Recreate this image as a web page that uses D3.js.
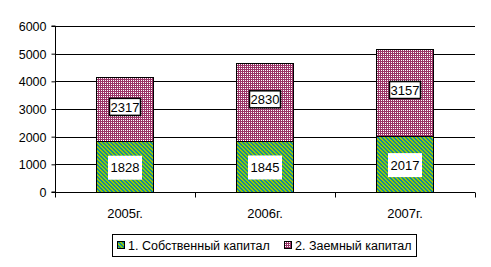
<!DOCTYPE html>
<html><head><meta charset="utf-8">
<script src="https://cdn.jsdelivr.net/npm/d3@7"></script>
<style>body{margin:0;background:#fff}svg{display:block}text{font-family:"Liberation Sans",Arial,sans-serif;font-size:12px;fill:#000}</style>
</head><body><svg id="c" width="491" height="267"></svg>
<script>
const categories = ["2005г.", "2006г.", "2007г."];
const ownCapital = [1828, 1845, 2017];
const borrowedCapital = [2317, 2830, 3157];
const yTicks = [0, 1000, 2000, 3000, 4000, 5000, 6000];
const seriesNames = ["1. Собственный капитал", "2. Заемный капитал"];

const svg = d3.select("#c");
const m = {l:55, r:475, t:26, b:192};
const x = d3.scaleBand().domain(categories).range([m.l, m.r]).paddingInner(0.59).paddingOuter(0.295);
const y = d3.scaleLinear().domain([0, 6000]).range([m.b, m.t]);

const defs = svg.append("defs");
function pixelPattern(id, rows, colors){
  const p = defs.append("pattern").attr("id",id).attr("patternUnits","userSpaceOnUse")
    .attr("width",rows[0].length).attr("height",rows.length);
  rows.forEach((r,yy)=>r.split("").forEach((ch,xx)=>{
    p.append("rect").attr("x",xx).attr("y",yy).attr("width",1).attr("height",1)
      .attr("fill",colors[ch]).attr("shape-rendering","crispEdges");
  }));
}
pixelPattern("pg", ["BBYY","YBBY","YYBB","BYYB"], {B:"#10889c", Y:"#99cc00"});
pixelPattern("pm", ["MW","MM"], {M:"#993366", W:"#ffffff"});

// gridlines
svg.append("g").selectAll("line").data(yTicks.filter(d=>d>0)).join("line")
  .attr("x1",m.l).attr("x2",m.r).attr("y1",d=>Math.round(y(d))+0.5).attr("y2",d=>Math.round(y(d))+0.5)
  .attr("stroke","#000");

// y axis
const ya = svg.append("g").attr("transform",`translate(${m.l+0.5},0)`)
  .call(d3.axisLeft(y).tickValues(yTicks).tickSize(4).tickPadding(5).tickFormat(d3.format("d")));
ya.select(".domain").attr("d",`M-4,${m.t}H0V${m.b}H-4`).attr("stroke","#000");
ya.selectAll("text").style("font-size","12.5px").attr("dy","0.35em");
ya.selectAll(".tick line").attr("stroke","#000");

// x axis
const xa = svg.append("g").attr("transform",`translate(0,${m.b+0.5})`);
xa.append("line").attr("x1",m.l).attr("x2",m.r).attr("stroke","#000");
xa.selectAll(".tk").data(d3.range(categories.length+1)).join("line")
  .attr("x1",i=>Math.round(m.l+i*(m.r-m.l)/categories.length)+0.5)
  .attr("x2",i=>Math.round(m.l+i*(m.r-m.l)/categories.length)+0.5)
  .attr("y1",0).attr("y2",5).attr("stroke","#000");
xa.selectAll("text").data(categories).join("text")
  .attr("x",d=>x(d)+x.bandwidth()/2).attr("y",25).attr("text-anchor","middle").style("font-size","13px").text(d=>d);

// bars
const stackData = categories.map((c,i)=>({c, a:ownCapital[i], b:borrowedCapital[i]}));
const g = svg.append("g");
g.selectAll(".ba").data(stackData).join("rect")
  .attr("x",d=>Math.round(x(d.c))+0.5).attr("width",Math.round(x.bandwidth()))
  .attr("y",d=>Math.round(y(d.a))+0.5).attr("height",d=>Math.round(y(0))-Math.round(y(d.a)))
  .attr("fill","url(#pg)").attr("stroke","#000").attr("stroke-width",1);
g.selectAll(".bb").data(stackData).join("rect")
  .attr("x",d=>Math.round(x(d.c))+0.5).attr("width",Math.round(x.bandwidth()))
  .attr("y",d=>Math.round(y(d.a+d.b))+0.5).attr("height",d=>Math.round(y(d.a))-Math.round(y(d.a+d.b)))
  .attr("fill","url(#pm)").attr("stroke","#000").attr("stroke-width",1);

// labels
const lab = svg.append("g");
stackData.forEach(d=>{
  const cx = x(d.c)+x.bandwidth()/2;
  const ya1 = y(d.a/2)+1;
  lab.append("rect").attr("x",cx-17).attr("y",ya1-12).attr("width",34).attr("height",24).attr("fill","#fff");
  lab.append("text").attr("x",cx).attr("y",ya1).attr("dy","0.35em").attr("text-anchor","middle").style("font-size","13px").text(d.a);
  const yb = y(d.a+d.b/2)-3;
  lab.append("rect").attr("x",cx-15.5).attr("y",yb-8).attr("width",31).attr("height",17).attr("fill","#fff").attr("stroke","#000").attr("stroke-width",1.5);
  lab.append("text").attr("x",cx).attr("y",yb+1).attr("dy","0.35em").attr("text-anchor","middle").style("font-size","13px").text(d.b);
});

// legend
const lg = svg.append("g");
lg.append("rect").attr("x",112.5).attr("y",234.5).attr("width",304).attr("height",22).attr("fill","#fff").attr("stroke","#000");
const lx = [117, 284];
seriesNames.forEach((n,i)=>{
  lg.append("rect").attr("x",lx[i]+0.5).attr("y",241.5).attr("width",7).attr("height",7)
    .attr("fill", i===0?"url(#pg)":"url(#pm)").attr("stroke","#000");
  lg.append("text").attr("x",lx[i]+11).attr("y",245.5).attr("dy","0.35em").style("font-size","12.5px").text(n);
});
</script></body></html>
